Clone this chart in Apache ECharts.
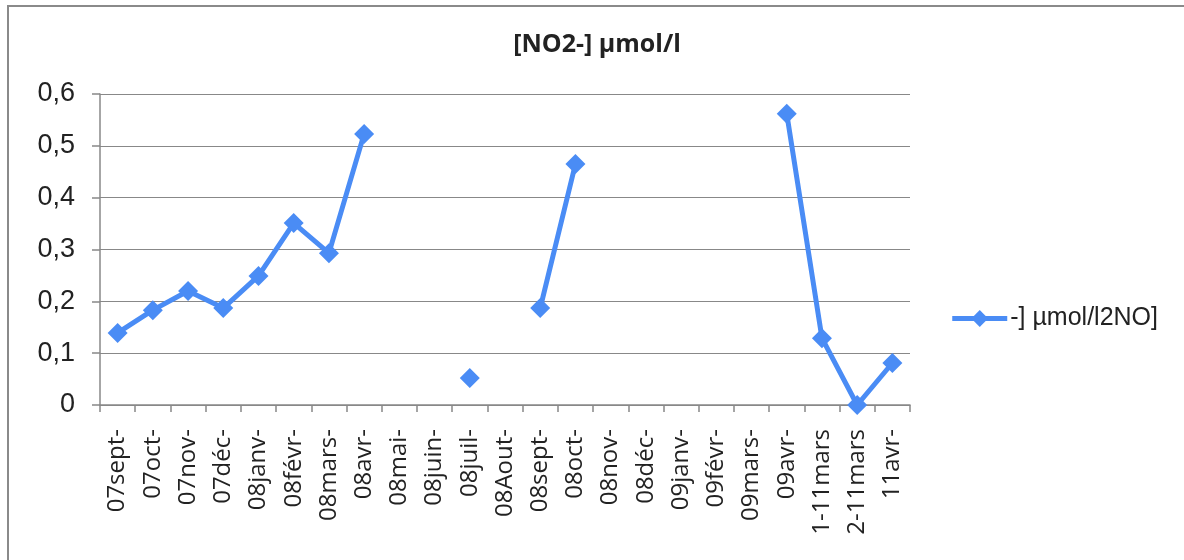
<!DOCTYPE html>
<html>
<head>
<meta charset="utf-8">
<script src="https://cdn.jsdelivr.net/npm/echarts@6/dist/echarts.min.js"></script>
<style>html,body{margin:0;padding:0;background:#fff;}#c{width:1184px;height:560px;}</style>
</head>
<body>
<div id="c"></div>
<script>
const categories = ["07sept-","07oct-","07nov-","07déc-","08janv-","08févr-","08mars-","08avr-","08mai-","08juin-","08juil-","08Aout-","08sept-","08oct-","08nov-","08déc-","09janv-","09févr-","09mars-","09avr-","1-11mars","2-11mars","11avr-"];
const values = [0.139,0.183,0.220,0.187,0.249,0.351,0.293,0.523,null,null,0.052,null,0.187,0.465,null,null,null,null,null,0.562,0.129,0,0.081];
const yTicks = [0,0.1,0.2,0.3,0.4,0.5,0.6];
const seriesName = "-] µmol/l2NO]";
const titleText = "[NO2-] µmol/l";

const chart = echarts.init(document.getElementById('c'), null, {renderer:'canvas'});
chart.setOption({
  animation:false,
  backgroundColor:'#fff',
  graphic:[{type:'rect',shape:{x:8,y:6,width:1300,height:700},style:{fill:'none',stroke:'#8a8a8a',lineWidth:2},silent:true}],
  title:{text:titleText,left:592,textAlign:'center',top:27,textStyle:{fontFamily:'Open Sans',fontWeight:'bold',fontSize:25,color:'#222'}},
  legend:{right:21,top:301,orient:'vertical',itemWidth:55,itemHeight:21,itemGap:0,
    textStyle:{fontFamily:'Liberation Sans',fontSize:25,color:'#222',padding:[0,0,0,-2]},
    data:[{name:seriesName,lineStyle:{width:5,color:'#4A8CF5'},itemStyle:{color:'#4A8CF5'}}]},
  grid:{left:100,right:274,top:94,bottom:155,containLabel:false},
  xAxis:{type:'category',data:categories,boundaryGap:true,
    axisLine:{lineStyle:{color:'#888',width:1.5}},
    axisTick:{show:true,alignWithLabel:false,length:7,lineStyle:{color:'#888',width:1.5}},
    axisLabel:{rotate:90,interval:0,margin:24,fontFamily:'Open Sans',fontSize:24,color:'#222'}},
  yAxis:{type:'value',min:0,max:0.6,interval:0.1,
    axisLine:{show:true,lineStyle:{color:'#888',width:1.5}},
    axisTick:{show:true,length:8,inside:false,lineStyle:{color:'#888',width:1.5}},
    splitLine:{lineStyle:{color:'#888',width:1.2}},
    axisLabel:{margin:25,fontFamily:'Liberation Sans',fontSize:27,color:'#222',
      formatter:v=>{const t=yTicks.find(x=>Math.abs(x-v)<1e-9);return t===0?'0':String(t).replace('.',',');}}},
  series:[{name:seriesName,type:'line',data:values,connectNulls:false,
    symbol:'diamond',symbolSize:20,showAllSymbol:true,
    lineStyle:{color:'#4A8CF5',width:5},
    itemStyle:{color:'#4A8CF5'}}]
});
</script>
</body>
</html>
